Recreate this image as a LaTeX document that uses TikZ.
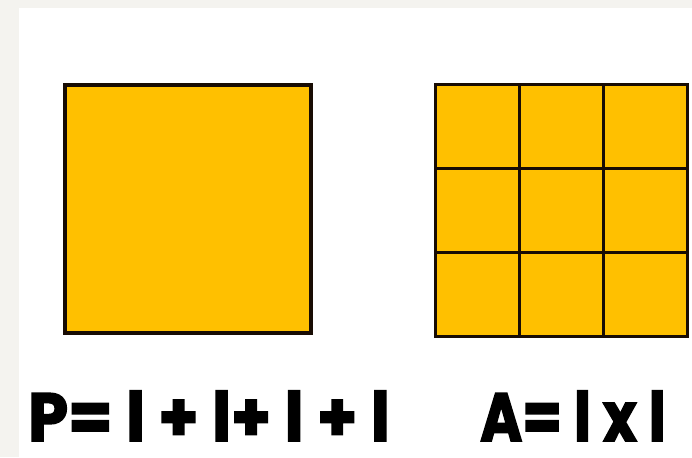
\documentclass[tikz,border=0pt]{standalone}
\usepackage{fontspec}
\setmainfont{Poppins}
\newfontfamily\chunky{Poppins}[UprightFont=*-Bold,FakeBold=2.5]
\usetikzlibrary{positioning}
\definecolor{tileyellow}{RGB}{255,192,0}
\definecolor{edgedark}{RGB}{24,12,4}
\definecolor{paper}{RGB}{244,243,239}
\tikzset{
  bigsquare/.style={draw=edgedark,fill=tileyellow,line width=3.6pt,minimum width=246pt,minimum height=248pt,inner sep=0pt},
  tile/.style={draw=edgedark,fill=tileyellow,line width=3pt,minimum width=84pt,minimum height=84pt,inner sep=0pt},
  formula/.style={font=\fontsize{68}{68}\chunky,inner sep=0pt,anchor=base west}
}

\begin{document}
\begin{tikzpicture}[x=1pt,y=1pt]
  % page and paper margins
  \fill[paper] (0,0) rectangle (692,457);
  \fill[white] (19,0) rectangle (692,449);
  \useasboundingbox (0,0) rectangle (692,457);

  % perimeter square
  \node[bigsquare] (sq) at (188,248) {};

  % area grid, 3 by 3
  \foreach \i in {0,1,2}{
    \foreach \j in {0,1,2}{
      \node[tile] (cell-\i-\j) at ({435+42+84*\j},{457-85-42-84*\i}) {};
    }
  }

  % formulas
  \node[formula,xscale=0.94] (perim) at (28,16) {P= l + l+ l + l};
  \node[formula,xscale=0.84] (area) at (480,16) {A= l x l};
\end{tikzpicture}
\end{document}
